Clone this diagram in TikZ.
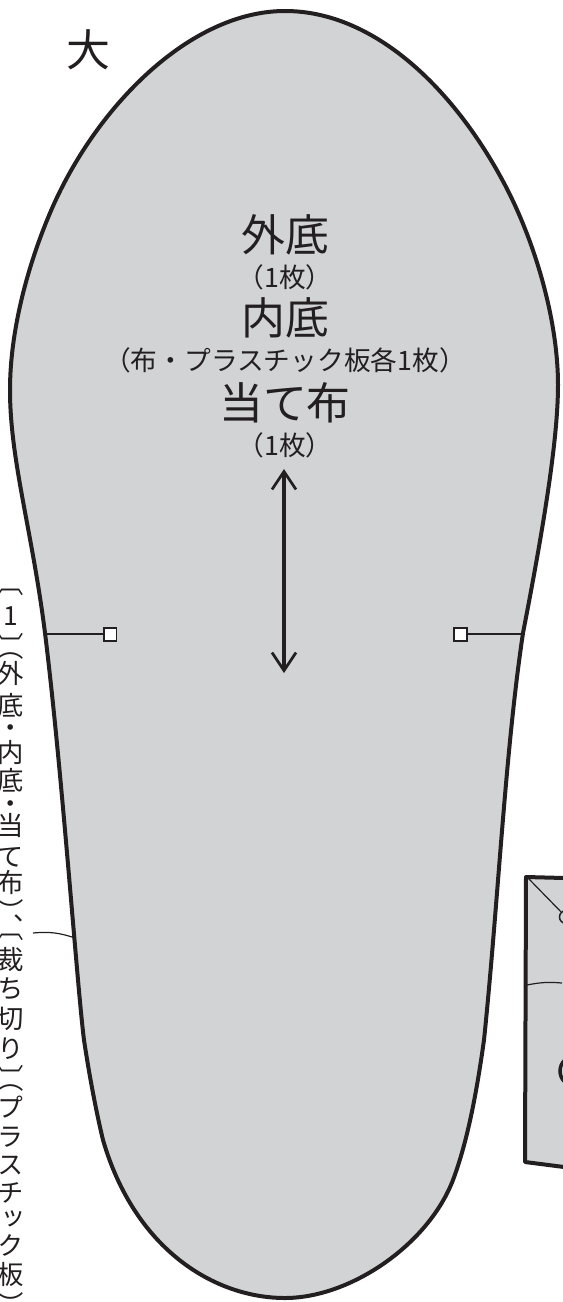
\documentclass[tikz,border=0pt]{standalone}
\usepackage{fontspec}
\newfontfamily\jpfont{Noto Sans CJK JP}
\newfontfamily\jpvert[RawFeature={+vert}]{Noto Sans CJK JP}
\usetikzlibrary{arrows.meta}
\definecolor{solegray}{HTML}{D1D3D4}
\definecolor{inkblack}{HTML}{231F20}
\tikzset{
  bigtext/.style={font=\jpfont\fontsize{25}{25}\selectfont,text=inkblack,inner sep=0pt},
  smalltext/.style={font=\jpfont\fontsize{15.2}{16}\selectfont,text=inkblack,inner sep=0pt},
  vchar/.style={font=\jpvert\fontsize{15}{16}\selectfont,text=inkblack,inner sep=0pt,
    text height=13.2pt,text depth=1.8pt,text width=15pt,align=center},
  notch/.style={draw=inkblack,fill=white,line width=0.04cm,minimum size=0.26cm,inner sep=0pt},
  thinline/.style={draw=inkblack,line width=0.024cm},
  outline/.style={draw=inkblack,fill=solegray,line width=0.08cm,line join=round}
}
\begin{document}
\begin{tikzpicture}[x=0.02cm,y=-0.02cm]
\useasboundingbox (0,0) rectangle (562,1302);
%sole
\draw[outline] (285,11) .. controls (375,11) and (455,90) .. (505,185)
  .. controls (535,242) and (558,320) .. (558,385)
  .. controls (558,440) and (543,530) .. (523,633)
  .. controls (505,753) and (498,905) .. (484,1040)
  .. controls (477,1090) and (468,1140) .. (453,1180)
  .. controls (428,1245) and (350,1298) .. (285,1298)
  .. controls (215,1298) and (135,1250) .. (103,1140)
  .. controls (97,1115) and (90,1080) .. (84,1040)
  .. controls (77,985) and (62,770) .. (45,633)
  .. controls (32,530) and (10,460) .. (10,390)
  .. controls (10,330) and (28,265) .. (50,213)
  .. controls (95,107) and (190,11) .. cycle;
%second piece
\draw[outline] (564,878) -- (526,877) -- (525,1162) -- (564,1167);
\draw[inkblack,line width=0.07cm] (575,1071) circle (15);
\coordinate (diagtop) at (528,878);
\node[draw=inkblack,line width=0.03cm,fill=solegray,circle,minimum size=0.26cm,inner sep=0pt] (hole) at (566,917) {};
\draw[thinline] (diagtop) -- (hole);
\coordinate (curveleft) at (527,985);
\coordinate (curveright) at (562,983);
\draw[thinline] (curveleft) to[bend left=8] (curveright);
%labels
\node[bigtext] (size) at (88,50) {大};
\node[bigtext] (outer) at (285,235) {外底};
\node[smalltext] (outercount) at (285,277) {（1枚）};
\node[bigtext] (inner) at (285,318) {内底};
\node[smalltext] (innercount) at (285,360) {（布・プラスチック板各1枚）};
\node[bigtext] (patch) at (285,403) {当て布};
\node[smalltext] (patchcount) at (285,445) {（1枚）};
%grain arrow
\coordinate (graintop) at (284,469);
\coordinate (grainbottom) at (284,673);
\draw[inkblack,line width=0.075cm,{Straight Barb[length=0.36cm,width=0.48cm,line width=0.055cm]}-{Straight Barb[length=0.36cm,width=0.48cm,line width=0.055cm]}] (graintop) -- (grainbottom);
%notches
\node[notch] (notchl) at (110,634) {};
\node[notch] (notchr) at (460,634) {};
\coordinate (edgel) at (46,634);
\coordinate (edger) at (523,634);
\draw[thinline] (edgel) -- (notchl);
\draw[thinline] (notchr) -- (edger);
%leader
\coordinate (leadl) at (33,933);
\coordinate (leadr) at (75,938);
\draw[thinline] (leadl) to[bend left=12] (leadr);
%vertical text
\foreach \ch/\ypos [count=\i] in {〔/583,1/615,〕/645,（/647,外/673,底/705,・/727,内/752,底/780,・/803,当/825,て/856,布/882,
  ）/911,、/926,〔/928,裁/959,ち/988,切/1018,り/1048,〕/1077,（/1079,プ/1107,ラ/1136,ス/1164,チ/1192,ッ/1218,ク/1245,板/1274,）/1304}
  \node[vchar] (v\i) at (11,\ypos) {\ch};
\end{tikzpicture}
\end{document}
